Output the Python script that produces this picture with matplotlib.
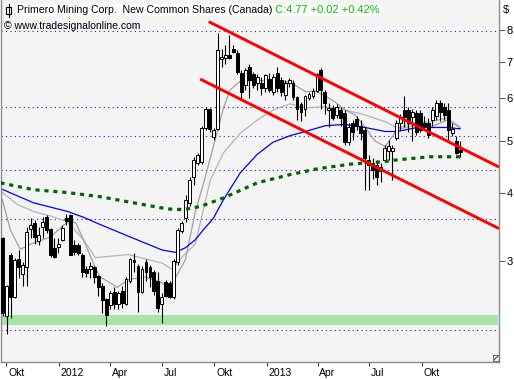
import datetime as dt
import matplotlib
matplotlib.use("Agg")
import matplotlib.pyplot as plt
import matplotlib.dates as mdates
from matplotlib.ticker import FixedLocator, FixedFormatter, NullLocator
from matplotlib.patches import Rectangle
from matplotlib.lines import Line2D

# ---------------- data (weekly candles) ----------------
start = dt.datetime(2011, 9, 24, 12)

opens = [3.30, 2.37, 3.08, 2.57, 3.02, 2.83, 2.92, 3.44, 3.52, 3.27,
         3.47, 3.61, 3.44, 3.17, 3.18, 3.28, 3.60, 3.64, 3.21, 3.21,
         3.08, 2.90, 2.90, 2.92, 2.81, 2.70, 2.55, 2.49, 2.63, 2.50,
         2.64, 2.50, 2.75, 3.01, 2.93, 2.63, 2.98, 2.92, 2.86, 2.75,
         2.50, 2.74, 2.73, 2.57, 2.98, 3.41, 3.60, 3.84, 4.28, 4.54,
         4.56, 5.27, 5.73, 5.07, 5.25, 7.07, 7.10, 7.20, 7.40, 7.26,
         6.68, 6.33, 6.84, 6.63, 6.38, 6.40, 6.26, 6.50, 6.16, 6.68,
         6.48, 6.08, 6.38, 6.38, 6.02, 5.85, 5.73, 5.99, 6.04, 6.19,
         6.76, 6.16, 5.70, 5.75, 5.58, 5.70, 5.63, 4.98, 5.40, 5.49,
         5.33, 5.24, 4.61, 4.55, 4.50, 4.40, 4.61, 4.79, 4.78, 5.06,
         5.40, 5.70, 5.70, 5.52, 5.63, 5.63, 5.40, 5.40, 5.46, 5.55,
         5.87, 5.78, 5.70, 5.16, 5.00, 4.80]
highs = [3.32, 2.71, 3.10, 3.04, 3.14, 2.98, 3.47, 3.60, 3.57, 3.47,
         3.62, 3.64, 3.45, 3.30, 3.30, 3.50, 3.66, 3.66, 3.28, 3.24,
         3.10, 2.93, 2.98, 2.93, 2.82, 2.73, 2.56, 2.64, 2.68, 2.64,
         2.69, 2.80, 3.04, 3.10, 2.96, 2.93, 3.02, 2.95, 2.88, 2.86,
         2.61, 2.77, 2.75, 3.02, 3.45, 3.55, 3.97, 4.28, 4.67, 4.75,
         5.33, 5.78, 5.75, 5.27, 7.91, 7.40, 7.51, 7.84, 7.51, 7.36,
         6.76, 6.80, 6.92, 6.70, 6.65, 6.57, 6.65, 6.68, 6.63, 6.84,
         6.57, 6.48, 6.53, 6.48, 6.04, 5.90, 6.08, 6.16, 6.26, 6.68,
         6.80, 6.21, 5.87, 5.82, 5.85, 5.78, 5.70, 5.40, 5.46, 5.55,
         5.46, 5.29, 4.71, 4.65, 4.61, 4.55, 4.90, 5.02, 4.90, 5.46,
         5.60, 6.04, 5.78, 5.73, 5.70, 5.70, 5.55, 5.50, 5.78, 5.95,
         5.95, 5.87, 5.87, 5.40, 5.11, 5.00]
lows = [2.37, 2.20, 2.35, 2.56, 2.79, 2.69, 2.69, 3.30, 3.22, 3.21,
        3.30, 3.38, 3.05, 3.03, 3.10, 3.27, 3.50, 3.07, 3.08, 3.08,
        2.80, 2.80, 2.79, 2.73, 2.58, 2.40, 2.27, 2.44, 2.44, 2.44,
        2.45, 2.49, 2.73, 2.86, 2.41, 2.62, 2.75, 2.68, 2.59, 2.41,
        2.30, 2.57, 2.56, 2.55, 2.95, 3.38, 3.54, 3.79, 4.14, 4.50,
        4.52, 5.24, 5.20, 5.02, 5.24, 6.83, 6.94, 7.07, 7.25, 6.63,
        5.95, 6.21, 5.99, 6.26, 6.21, 6.08, 6.16, 6.14, 6.08, 6.16,
        6.06, 5.95, 6.29, 5.95, 5.46, 5.44, 5.55, 5.95, 5.99, 6.14,
        5.73, 5.60, 5.30, 5.46, 5.50, 5.33, 4.92, 4.92, 5.02, 5.24,
        5.02, 4.06, 4.06, 4.25, 4.14, 4.20, 4.56, 4.61, 4.23, 5.02,
        5.24, 5.29, 5.20, 5.00, 5.13, 5.20, 5.24, 5.06, 5.33, 5.46,
        5.44, 5.46, 5.02, 5.10, 4.72, 4.67]
closes = [2.40, 2.69, 2.57, 3.01, 2.92, 2.95, 3.39, 3.50, 3.32, 3.35,
          3.54, 3.42, 3.07, 3.05, 3.22, 3.45, 3.56, 3.08, 3.11, 3.10,
          2.86, 2.85, 2.93, 2.80, 2.68, 2.54, 2.38, 2.62, 2.50, 2.61,
          2.51, 2.78, 3.02, 2.98, 2.63, 2.90, 2.86, 2.80, 2.64, 2.45,
          2.57, 2.58, 2.57, 3.00, 3.42, 3.52, 3.89, 4.23, 4.61, 4.71,
          5.27, 5.73, 5.25, 5.24, 7.36, 7.13, 7.20, 7.10, 7.30, 6.70,
          6.16, 6.76, 6.48, 6.35, 6.57, 6.26, 6.60, 6.21, 6.57, 6.26,
          6.16, 6.38, 6.48, 6.02, 5.73, 5.65, 6.04, 6.10, 6.19, 6.63,
          6.21, 5.87, 5.75, 5.51, 5.78, 5.51, 4.98, 5.29, 5.18, 5.33,
          5.16, 4.65, 4.51, 4.42, 4.28, 4.48, 4.85, 4.88, 4.85, 5.40,
          5.52, 5.52, 5.40, 5.65, 5.20, 5.24, 5.33, 5.13, 5.70, 5.87,
          5.65, 5.58, 5.24, 5.26, 4.75, 4.77]

# moving averages (week index, price)
ma_fast_w = [-0.1, 1.9, 4.4, 7.0, 12.0, 16.3, 18.3, 20.3, 23.3, 24.5, 28.8, 31.6,
             35.9, 40.1, 41.6, 43.4, 45.9, 48.4, 50.4, 52.9, 55.5, 57.2, 59.7,
             64.0, 68.0, 72.3, 76.1, 78.6, 81.1, 83.6, 86.1, 88.6, 91.1, 93.6,
             96.2, 99.2, 101.7, 104.2, 107.5, 110.0, 111.7, 113.2, 115.0]
ma_fast_p = [3.89, 3.42, 3.15, 3.22, 3.32, 3.54, 3.53, 3.28, 2.91, 2.80, 2.68, 2.77,
             2.80, 2.73, 2.68, 2.79, 3.01, 3.69, 4.15, 4.86, 5.75, 6.21, 6.44,
             6.47, 6.42, 6.42, 6.16, 6.18, 6.05, 5.89, 5.70, 5.58, 5.30, 4.99,
             4.88, 5.24, 5.30, 5.35, 5.30, 5.39, 5.46, 5.39, 5.28]
ma_slow_w = [-0.1, 3.7, 7.7, 12.0, 16.3, 20.3, 23.3, 31.6, 40.1, 42.6, 45.1, 48.4,
             52.2, 55.5, 59.7, 64.0, 68.0, 72.3, 76.1, 81.1, 86.1, 91.1, 96.2,
             99.2, 103.2, 107.5, 111.7, 115.0]
ma_slow_p = [4.01, 3.81, 3.70, 3.63, 3.54, 3.28, 3.04, 3.08, 2.97, 2.89, 3.05, 3.22,
             4.23, 4.75, 5.16, 5.46, 5.70, 5.85, 5.75, 5.78, 5.70, 5.58, 5.42,
             5.28, 5.39, 5.42, 5.51, 5.30]
ma_blue_w = [-0.6, 7.7, 16.3, 20.3, 24.5, 31.6, 40.1, 43.4, 45.9, 48.4, 50.4, 52.9,
             55.5, 59.7, 64.0, 68.0, 72.3, 76.1, 81.1, 86.1, 91.1, 96.2, 99.2,
             104.2, 111.7, 115.0]
ma_blue_p = [4.08, 3.84, 3.70, 3.61, 3.50, 3.33, 3.14, 3.11, 3.17, 3.28, 3.42, 3.59,
             3.89, 4.36, 4.72, 4.97, 5.11, 5.20, 5.33, 5.36, 5.29, 5.20, 5.20,
             5.29, 5.29, 5.26]
ma_green_w = [-0.6, 7.7, 16.3, 24.5, 32.8, 41.4, 45.4, 49.7, 55.5, 64.0, 72.3,
              79.3, 87.9, 95.4, 99.2, 107.5, 115.0]
ma_green_p = [4.18, 4.06, 4.01, 3.94, 3.84, 3.74, 3.73, 3.78, 3.92, 4.18, 4.33,
              4.44, 4.53, 4.57, 4.61, 4.67, 4.67]

# trend channel (date, price)
chan_upper = [(dt.datetime(2012, 9, 21), 8.30), (dt.datetime(2014, 2, 14), 4.47)]
chan_lower = [(dt.datetime(2012, 9, 6), 6.50), (dt.datetime(2014, 2, 14), 3.44)]

# horizontal levels
levels = [7.98, 5.76, 5.10, 4.42, 3.58, 2.23]
support_band = (2.285, 2.385)

y_ticks = [3, 4, 5, 6, 7, 8]
y_labels = ["3", "4", "5", "6", "7", "8"]
x_ticks = [dt.datetime(2011, 10, 1), dt.datetime(2012, 1, 1), dt.datetime(2012, 4, 1),
           dt.datetime(2012, 7, 1), dt.datetime(2012, 10, 1), dt.datetime(2013, 1, 1),
           dt.datetime(2013, 4, 1), dt.datetime(2013, 7, 1), dt.datetime(2013, 10, 1)]
x_labels = ["Okt", "2012", "Apr", "Jul", "Okt", "2013", "Apr", "Jul", "Okt"]

title = "Primero Mining Corp.  New Common Shares (Canada)"
quote = "C:4.77 +0.02 +0.42%"
copyright_txt = "\u00a9 www.tradesignalonline.com"

# ---------------- drawing ----------------
FONT = "Liberation Sans"
plt.rcParams["font.family"] = [FONT, "DejaVu Sans"]

W, H = 514, 380
fig = plt.figure(figsize=(W / 100, H / 100), dpi=100)
fig.patch.set_facecolor("white")
ax = fig.add_axes([0.5 / W, 18 / H, 498.5 / W, 362 / H])
ax.set_facecolor("#F4F4F4")


def wdate(w):
    return mdates.date2num(start + dt.timedelta(days=7 * w))


xs = [wdate(i) for i in range(len(opens))]

ax.set_yscale("log")
ax.set_ylim(1.95, 9.10)
ax.set_xlim(mdates.date2num(dt.datetime(2011, 9, 20, 11)),
            mdates.date2num(dt.datetime(2014, 2, 14)))

# support band
ax.axhspan(support_band[0], support_band[1], xmin=0.003, xmax=0.997,
           color="#A8E4A8", lw=0, zorder=0.5)

# dotted levels
for lv in levels:
    ax.axhline(lv, color="#2020C8", lw=0.8, ls=(0, (1, 3)), zorder=1)

# moving averages
ax.plot([wdate(w) for w in ma_slow_w], ma_slow_p, color="#B4B4B4", lw=0.9, zorder=2)
ax.plot([wdate(w) for w in ma_fast_w], ma_fast_p, color="#A0A0A0", lw=0.9, zorder=2)
ax.plot([wdate(w) for w in ma_blue_w], ma_blue_p, color="#0000F0", lw=0.9, zorder=2)

# candles
body_w = 5.0
for x, o, h, l, c in zip(xs, opens, highs, lows, closes):
    ax.vlines(x, l, h, color="black", lw=0.8, zorder=3)
    lo, hi = min(o, c), max(o, c)
    if hi - lo < 0.012:
        hi = lo + 0.012
    fc = "white" if c >= o else "black"
    ax.add_patch(Rectangle((x - body_w / 2, lo), body_w, hi - lo, facecolor=fc,
                           edgecolor="black", lw=0.7, zorder=4))

ax.plot([wdate(w) for w in ma_green_w], ma_green_p, color="#006400", lw=2.3,
        ls=(0, (1.3, 1.5)), zorder=4.5, solid_capstyle="butt", dash_capstyle="butt")

# channel
for seg in (chan_upper, chan_lower):
    ax.plot([mdates.date2num(seg[0][0]), mdates.date2num(seg[1][0])],
            [seg[0][1], seg[1][1]], color="#FF0000", lw=2.1, zorder=5,
            solid_capstyle="butt")

# axes styling
for s in ("left", "right", "bottom"):
    ax.spines[s].set_color("#8C8C8C")
    ax.spines[s].set_linewidth(1.0)
ax.spines["top"].set_visible(False)

ax.yaxis.tick_right()
ax.yaxis.set_major_locator(FixedLocator(y_ticks))
ax.yaxis.set_major_formatter(FixedFormatter(y_labels))
ax.yaxis.set_minor_locator(NullLocator())
ax.tick_params(axis="y", which="major", length=4, width=0.8, color="#606060",
               labelsize=8, pad=1.5, labelcolor="black")

ax.set_xticks([mdates.date2num(d) for d in x_ticks])
ax.set_xticklabels([""] * len(x_ticks))
ax.tick_params(axis="x", which="major", length=3, width=0.8, color="#404040",
               direction="out", pad=0)
ax.xaxis.set_minor_locator(NullLocator())
for d, lab in zip(x_ticks, x_labels):
    ax.annotate(lab, xy=(mdates.date2num(d), 0), xycoords=("data", "axes fraction"),
                xytext=(1.2, -8), textcoords="offset points", ha="left",
                va="center", fontsize=7.5, color="black")

# header texts
fig.text(17 / W, 1 - 10 / H, title, fontsize=7.6, color="black", va="center",
         ha="left", bbox=dict(facecolor="white", edgecolor="none", pad=1.0))
fig.text(275 / W, 1 - 10 / H, quote, fontsize=8.0, color="#00C000", va="center",
         ha="left", bbox=dict(facecolor="white", edgecolor="none", pad=1.0))
fig.text(4 / W, 1 - 26 / H, copyright_txt, fontsize=7.5, color="black",
         va="center", ha="left")
fig.text(503 / W, 1 - 10 / H, "$", fontsize=8, color="black", va="center",
         ha="left")

# little candle icon in header
fig.add_artist(Line2D([8.5 / W, 8.5 / W], [1 - 4 / H, 1 - 17 / H],
                      color="black", lw=0.8, transform=fig.transFigure))
fig.add_artist(Rectangle((6 / W, 1 - 14 / H), 5 / W, 7 / H, facecolor="white",
                         edgecolor="black", lw=0.8, transform=fig.transFigure))
# resize grip
fig.add_artist(Rectangle((493 / W, 1 - 361 / H), 6 / W, 6 / H, facecolor="none",
                         edgecolor="#707070", lw=0.7, transform=fig.transFigure))
fig.add_artist(Line2D([494 / W, 498 / W], [1 - 360 / H, 1 - 356 / H],
                      color="#404040", lw=0.7, transform=fig.transFigure))

fig.savefig("out.png", dpi=100, facecolor="white")
